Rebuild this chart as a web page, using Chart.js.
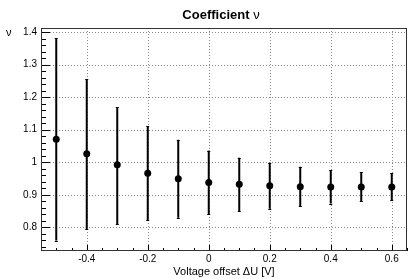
<!DOCTYPE html>
<html>
<head>
<meta charset="utf-8">
<script src="https://cdn.jsdelivr.net/npm/chart.js@4"></script>
<style>
  html, body { margin: 0; padding: 0; background: #fff; }
  #wrap { width: 411px; height: 279px; }
</style>
</head>
<body>
<div id="wrap"><canvas id="c" width="411" height="279"></canvas></div>
<script>
const voltageOffset = [-0.5, -0.4, -0.3, -0.2, -0.1, 0, 0.1, 0.2, 0.3, 0.4, 0.5, 0.6];
const nuValue = [1.071, 1.026, 0.992, 0.966, 0.949, 0.938, 0.932, 0.928, 0.925, 0.924, 0.924, 0.924];
const nuUpper = [1.381, 1.256, 1.170, 1.110, 1.069, 1.036, 1.014, 0.999, 0.986, 0.976, 0.969, 0.966];
const nuLower = [0.759, 0.794, 0.810, 0.822, 0.829, 0.840, 0.850, 0.857, 0.865, 0.873, 0.880, 0.884];
const xTicks = [-0.4, -0.2, 0, 0.2, 0.4, 0.6];
const yTicks = [0.8, 0.9, 1.0, 1.1, 1.2, 1.3, 1.4];
const xMinorStep = 0.05;
const yMinorStep = 0.02;

const FONT = '"Liberation Sans", Arial, Helvetica, sans-serif';

const rootStyle = {
  id: 'rootStyle',
  beforeDatasetsDraw(chart) {
    const {ctx, chartArea: a, scales: {x, y}} = chart;
    ctx.save();
    ctx.strokeStyle = '#8a8a8a';
    ctx.lineWidth = 1;
    ctx.setLineDash([1, 2]);
    xTicks.forEach(v => {
      const px = Math.round(x.getPixelForValue(v)) + 0.5;
      ctx.beginPath(); ctx.moveTo(px, a.top); ctx.lineTo(px, a.bottom); ctx.stroke();
    });
    yTicks.forEach(v => {
      const py = Math.round(y.getPixelForValue(v)) + 0.5;
      ctx.beginPath(); ctx.moveTo(a.left, py); ctx.lineTo(a.right, py); ctx.stroke();
    });
    ctx.setLineDash([]);
    // error bars
    ctx.strokeStyle = '#000';
    ctx.lineWidth = 2;
    voltageOffset.forEach((xv, i) => {
      const px = x.getPixelForValue(xv);
      const pt = y.getPixelForValue(nuUpper[i]);
      const pb = y.getPixelForValue(nuLower[i]);
      ctx.beginPath(); ctx.moveTo(px, pt); ctx.lineTo(px, pb); ctx.stroke();
      ctx.lineWidth = 1;
      ctx.beginPath();
      ctx.moveTo(px - 1.5, Math.round(pt) + 0.5); ctx.lineTo(px + 1.5, Math.round(pt) + 0.5);
      ctx.moveTo(px - 1.5, Math.round(pb) + 0.5); ctx.lineTo(px + 1.5, Math.round(pb) + 0.5);
      ctx.stroke();
      ctx.lineWidth = 2;
    });
    ctx.restore();
  },
  afterDatasetsDraw(chart) {
    const {ctx, chartArea: a, scales: {x, y}} = chart;
    ctx.save();
    ctx.strokeStyle = '#000';
    ctx.lineWidth = 1;
    // tick marks
    ctx.beginPath();
    const x0 = Math.round(x.min / xMinorStep) * xMinorStep;
    for (let k = Math.ceil(x.min / xMinorStep); k * xMinorStep <= x.max + 1e-9; k++) {
      const v = k * xMinorStep;
      const isMajor = xTicks.some(t => Math.abs(t - v) < 1e-6);
      const px = Math.round(x.getPixelForValue(v)) + 0.5;
      const len = isMajor ? 6 : 3;
      ctx.moveTo(px, a.bottom); ctx.lineTo(px, a.bottom - len);
    }
    for (let k = Math.ceil(y.min / yMinorStep - 1e-9); k * yMinorStep <= y.max + 1e-9; k++) {
      const v = k * yMinorStep;
      const isMajor = yTicks.some(t => Math.abs(t - v) < 1e-6);
      const py = Math.round(y.getPixelForValue(v)) + 0.5;
      const len = isMajor ? 9 : 5;
      ctx.moveTo(a.left, py); ctx.lineTo(a.left + len, py);
    }
    ctx.stroke();
    // frame
    ctx.strokeStyle = '#333';
    ctx.strokeRect(Math.round(a.left) + 0.5, Math.round(a.top) + 0.5,
                   Math.round(a.right - a.left) - 1, Math.round(a.bottom - a.top) - 1);
    // titles
    ctx.fillStyle = '#000';
    ctx.textBaseline = 'alphabetic';
    ctx.font = 'bold 13px ' + FONT;
    const t1 = 'Coefficient ';
    ctx.font = '13px ' + FONT;
    const w2 = ctx.measureText('ν').width;
    ctx.font = 'bold 13px ' + FONT;
    const w1 = ctx.measureText(t1).width;
    const cx = (a.left + a.right) / 2 - 3;
    const sx = cx - (w1 + w2) / 2;
    ctx.textAlign = 'left';
    ctx.fillText(t1, sx, 19);
    ctx.font = '13px ' + FONT;
    ctx.fillText('ν', sx + w1, 19);
    ctx.font = '11px ' + FONT;
    ctx.textAlign = 'center';
    ctx.fillText('Voltage offset ΔU [V]', (a.left + a.right) / 2, 275);
    ctx.textAlign = 'left';
    ctx.fillText('ν', 6, 36);
    ctx.restore();
  }
};

new Chart(document.getElementById('c'), {
  type: 'scatter',
  data: {
    datasets: [{
      data: voltageOffset.map((v, i) => ({x: v, y: nuValue[i]})),
      backgroundColor: '#000',
      borderColor: '#000',
      pointRadius: 3.5,
      pointHoverRadius: 3.5,
      borderWidth: 0
    }]
  },
  options: {
    responsive: false,
    animation: false,
    devicePixelRatio: 1,
    layout: { padding: { left: 0, right: 4, top: 28, bottom: 0 } },
    plugins: { legend: { display: false }, tooltip: { enabled: false }, title: { display: false } },
    scales: {
      x: {
        type: 'linear', min: -0.55, max: 0.65,
        grid: { display: false, drawTicks: false },
        border: { display: false },
        afterBuildTicks: s => { s.ticks = xTicks.map(v => ({value: v})); },
        afterFit: s => { s.height = 28; },
        ticks: {
          padding: 2, color: '#000', maxRotation: 0, autoSkip: false,
          font: { family: FONT, size: 10 },
          callback: v => String(Math.round(v * 10) / 10)
        }
      },
      y: {
        type: 'linear', min: 0.727, max: 1.413,
        grid: { display: false, drawTicks: false },
        border: { display: false },
        afterBuildTicks: s => { s.ticks = yTicks.map(v => ({value: v})); },
        afterFit: s => { s.width = 41; },
        ticks: {
          padding: 4, color: '#000', autoSkip: false,
          font: { family: FONT, size: 10 },
          callback: v => String(Math.round(v * 10) / 10)
        }
      }
    }
  },
  plugins: [rootStyle]
});
</script>
</body>
</html>
